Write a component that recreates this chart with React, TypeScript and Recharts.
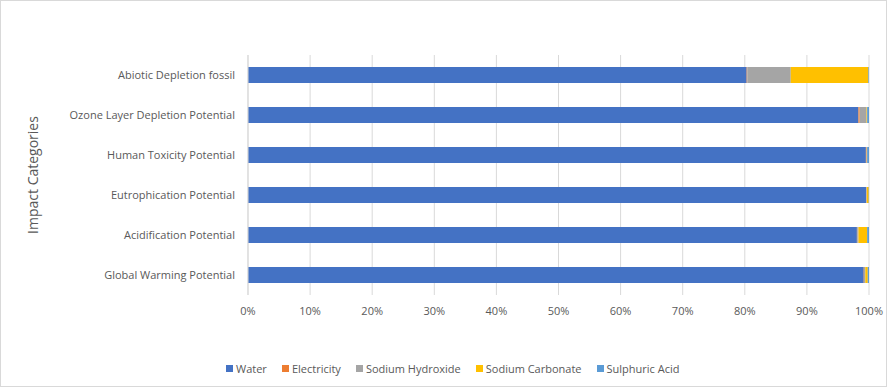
import React from "react";
import { BarChart, Bar, XAxis, YAxis, CartesianGrid, Label } from "recharts";

const categories = [
  "Abiotic Depletion fossil",
  "Ozone Layer Depletion Potential",
  "Human Toxicity Potential",
  "Eutrophication Potential",
  "Acidification Potential",
  "Global Warming Potential",
];
const water = [80.3, 98.4, 99.6, 99.6, 98.1, 99.2];
const electricity = [0.1, 0.2, 0.1, 0.05, 0.05, 0.05];
const sodiumHydroxide = [7.0, 1.1, 0.05, 0.05, 0.2, 0.2];
const sodiumCarbonate = [12.5, 0.1, 0.05, 0.3, 1.4, 0.4];
const sulphuricAcid = [0.1, 0.3, 0.3, 0.05, 0.3, 0.2];
const xTicks = [0, 0.1, 0.2, 0.3, 0.4, 0.5, 0.6, 0.7, 0.8, 0.9, 1];

const series = [
  { key: "water", name: "Water", color: "#4472C4", values: water },
  { key: "electricity", name: "Electricity", color: "#ED7D31", values: electricity },
  { key: "naoh", name: "Sodium Hydroxide", color: "#A5A5A5", values: sodiumHydroxide },
  { key: "na2co3", name: "Sodium Carbonate", color: "#FFC000", values: sodiumCarbonate },
  { key: "h2so4", name: "Sulphuric Acid", color: "#5B9BD5", values: sulphuricAcid },
];

const data = categories.map((c, i) => {
  const row: any = { name: c };
  series.forEach((s) => (row[s.key] = s.values[i]));
  return row;
});

const font = "'Open Sans', 'Noto Sans', sans-serif";
const textColor = "#595959";

export default function App() {
  return (
    <div
      style={{
        position: "absolute",
        left: 0,
        top: 0,
        width: 885,
        height: 385,
        border: "1px solid #d9d9d9",
        background: "#fff",
        fontFamily: font,
      }}
    >
      <BarChart
        width={885}
        height={385}
        data={data}
        layout="vertical"
        stackOffset="expand"
        barSize={16}
        margin={{ top: 54, right: 17, bottom: 61, left: 0 }}
      >
        <CartesianGrid horizontal={false} stroke="#d9d9d9" />
        <XAxis
          type="number"
          domain={[0, 1]}
          ticks={xTicks}
          tickFormatter={(v: number) => `${Math.round(v * 100)}%`}
          axisLine={false}
          tickLine={false}
          tickSize={0}
          tickMargin={12}
          height={30}
          interval={0}
          tick={{ fill: textColor, fontSize: 11, fontFamily: font }}
        />
        <YAxis
          type="category"
          dataKey="name"
          width={247}
          axisLine={{ stroke: "#d9d9d9" }}
          tickLine={false}
          tickSize={0}
          tickMargin={13}
          interval={0}
          tick={{ fill: textColor, fontSize: 11, fontFamily: font }}
        >
          <Label
            value="Impact Categories"
            angle={-90}
            position="insideLeft"
            offset={32}
            style={{ fill: textColor, fontSize: 14, fontFamily: font, textAnchor: "middle" }}
          />
        </YAxis>
        {series.map((s) => (
          <Bar key={s.key} dataKey={s.key} name={s.name} stackId="a" fill={s.color} isAnimationActive={false} />
        ))}
      </BarChart>
      <div
        style={{
          position: "absolute",
          left: 225,
          top: 360,
          display: "flex",
          gap: 15,
          fontSize: 11,
          color: textColor,
          fontFamily: font,
          whiteSpace: "nowrap",
        }}
      >
        {series.map((s) => (
          <div key={s.key} style={{ display: "flex", alignItems: "center" }}>
            <span style={{ width: 7, height: 7, background: s.color, display: "inline-block", marginRight: 3 }} />
            <span>{s.name}</span>
          </div>
        ))}
      </div>
    </div>
  );
}
